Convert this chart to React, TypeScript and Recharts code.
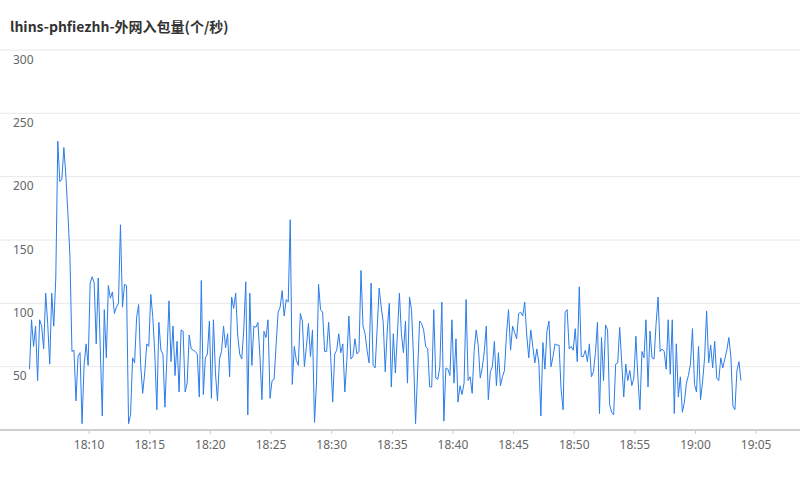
import React from 'react';
import { LineChart, Line, XAxis, YAxis, CartesianGrid } from 'recharts';

const chartTitle = 'lhins-phfiezhh-外网入包量(个/秒)';

// Inbound packet rate (packets/s), one sample every 10 seconds from 18:05:05.
const sampleStart = '18:05:05';
const sampleStepSec = 10;
const packetsIn: number[] = [
  48, 87, 66, 82, 39, 87, 82, 64, 108, 84, 52, 108, 82, 120, 228, 196, 198, 223, 200, 171, 137, 62, 63,
  23, 58, 61, 5, 51, 68, 51, 116, 121, 116, 68, 120, 65, 11, 95, 57, 114, 104, 109, 92, 97, 100,
  162, 97, 115, 114, 5, 12, 57, 53, 89, 99, 51, 29, 45, 68, 66, 107, 89, 60, 16, 85, 63, 60, 18,
  58, 102, 54, 82, 43, 70, 30, 79, 78, 30, 37, 75, 64, 63, 62, 60, 26, 118, 28, 57, 60, 86,
  25, 87, 45, 23, 56, 62, 82, 65, 76, 42, 105, 96, 108, 75, 60, 56, 79, 117, 12, 108, 51, 82,
  81, 85, 58, 24, 78, 73, 87, 25, 39, 40, 67, 93, 97, 110, 90, 103, 101, 166, 36, 66, 55, 51,
  92, 86, 50, 66, 84, 58, 79, 6, 38, 115, 95, 93, 62, 62, 85, 58, 22, 60, 63, 76, 61, 68, 30,
  55, 90, 56, 58, 72, 60, 62, 126, 82, 76, 63, 53, 116, 51, 49, 80, 112, 97, 85, 46, 79, 100,
  34, 76, 45, 75, 108, 76, 61, 86, 37, 105, 95, 57, 5, 45, 86, 84, 79, 66, 64, 34, 34, 95,
  41, 40, 50, 101, 7, 49, 48, 43, 87, 37, 72, 22, 35, 28, 37, 103, 39, 42, 29, 63, 79, 67,
  41, 49, 62, 82, 24, 46, 50, 70, 35, 61, 35, 42, 47, 76, 95, 63, 82, 77, 72, 92, 93, 90, 101,
  75, 57, 79, 66, 53, 64, 53, 11, 69, 48, 78, 86, 50, 58, 68, 67, 67, 32, 16, 93, 95, 64,
  66, 63, 80, 54, 113, 58, 58, 63, 54, 68, 42, 46, 61, 85, 13, 73, 39, 83, 79, 20, 14, 12,
  52, 53, 81, 53, 26, 52, 39, 47, 35, 41, 74, 41, 16, 62, 57, 87, 34, 78, 57, 56, 84, 105,
  62, 64, 62, 48, 87, 44, 87, 13, 68, 26, 42, 14, 22, 37, 43, 52, 80, 36, 30, 66, 24, 38, 57,
  94, 53, 67, 49, 70, 41, 39, 57, 49, 56, 63, 73, 58, 19, 16, 47, 54, 39,
];

const timeTicks = ['18:10', '18:15', '18:20', '18:25', '18:30', '18:35', '18:40', '18:45', '18:50', '18:55', '19:00', '19:05'];
const timeRange = ['18:02:39', '19:08:37'];
const valueTicks = [0, 50, 100, 150, 200, 250, 300];

const FONT = '"Noto Sans", "Noto Sans CJK SC", sans-serif';

const toSec = (hms: string) => {
  const [h, m, s] = hms.split(':').map(Number);
  return h * 3600 + m * 60 + (s || 0);
};

const fmtClock = (sec: number) => {
  const h = Math.floor(sec / 3600);
  const m = Math.floor((sec % 3600) / 60);
  return `${String(h).padStart(2, '0')}:${String(m).padStart(2, '0')}`;
};

const startSec = toSec(sampleStart);
const rows = packetsIn.map((v, i) => ({ t: startSec + i * sampleStepSec, v }));

// Value labels sit just under their grid line, flush with the left edge.
const ValueTick = (props: any) => {
  const { y, payload } = props;
  if (payload.value === 0) return <g />;
  return (
    <text x={13} y={y + 9} textAnchor="start" dominantBaseline="central" fill="#666" fontSize={12} fontFamily={FONT}>
      {payload.value}
    </text>
  );
};

export default function App() {
  return (
    <div style={{ position: 'absolute', left: 0, top: 0, width: 800, height: 480, background: '#fff' }}>
      <div
        style={{
          position: 'absolute',
          left: 10,
          top: 17,
          fontSize: 14,
          lineHeight: '18px',
          fontWeight: 700,
          color: '#333',
          fontFamily: '"Noto Sans CJK SC", "Noto Sans", sans-serif',
          whiteSpace: 'nowrap',
        }}
      >
        {chartTitle}
      </div>
      <LineChart width={800} height={480} data={rows} margin={{ top: 50, right: 0, bottom: 20, left: -20 }}>
        <CartesianGrid vertical={false} stroke="#e8e8e8" />
        <XAxis
          type="number"
          dataKey="t"
          domain={timeRange.map(toSec)}
          ticks={timeTicks.map(toSec)}
          tickFormatter={fmtClock}
          interval={0}
          allowDataOverflow
          height={30}
          axisLine={{ stroke: '#aaaaaa' }}
          tickLine={{ stroke: '#cccccc' }}
          tickSize={4}
          tickMargin={6}
          tick={{ fill: '#666', fontSize: 12, fontFamily: FONT }}
        />
        <YAxis
          type="number"
          domain={[0, 300]}
          ticks={valueTicks}
          interval={0}
          width={20}
          axisLine={false}
          tickLine={false}
          tick={<ValueTick />}
        />
        <Line
          type="linear"
          dataKey="v"
          stroke="#2b7de9"
          strokeWidth={1}
          dot={false}
          isAnimationActive={false}
        />
      </LineChart>
    </div>
  );
}
